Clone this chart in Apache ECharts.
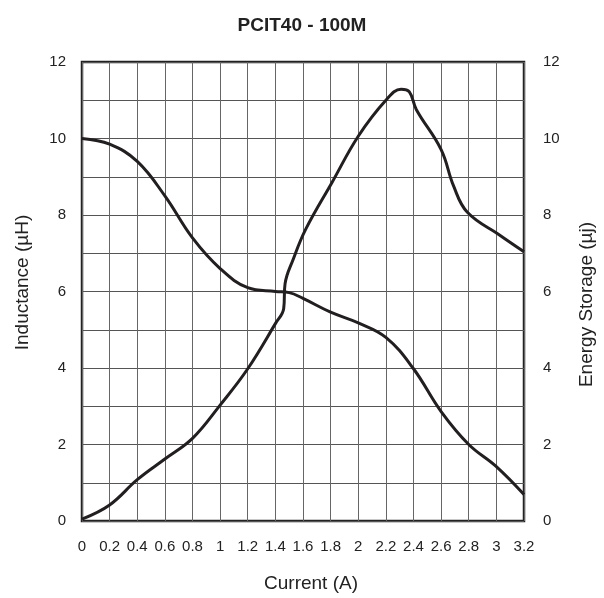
<!DOCTYPE html>
<html><head><meta charset="utf-8">
<script src="https://cdn.jsdelivr.net/npm/echarts@6/dist/echarts.min.js"></script>
<style>html,body{margin:0;padding:0;background:#fff}#c{width:604px;height:598px}</style>
</head><body><div id="c"></div>
<script>
var title = 'PCIT40 - 100M';
var xName = 'Current (A)';
var yLeftName = 'Inductance (\u00b5H)';
var yRightName = 'Energy Storage (\u00b5j)';
var inductance = [[0,10.0],[0.2,9.85],[0.4,9.4],[0.6,8.5],[0.8,7.4],[1.0,6.6],[1.2,6.1],[1.4,6.0],[1.5,5.97],[1.6,5.82],[1.8,5.46],[2.0,5.18],[2.2,4.8],[2.4,3.98],[2.6,2.86],[2.8,2.0],[3.0,1.42],[3.2,0.69]];
var energy = [[0,0.05],[0.2,0.42],[0.4,1.08],[0.6,1.62],[0.8,2.16],[1.0,3.03],[1.2,3.98],[1.4,5.16],[1.46,5.55],[1.47,6.2],[1.53,6.85],[1.62,7.63],[1.81,8.85],[2.0,10.06],[2.2,11.0],[2.31,11.29],[2.37,11.22],[2.42,10.76],[2.6,9.71],[2.69,8.76],[2.79,8.07],[3.03,7.46],[3.2,7.04]];
var chart = echarts.init(document.getElementById('c'));
var font = 'Liberation Sans, Arial, sans-serif';
function evenLabel(v){return v%2===0?String(v):'';}
chart.setOption({
  animation:false,
  title:{text:title,left:'center',top:11,textStyle:{fontFamily:font,fontSize:19,fontWeight:'bold',color:'#222'}},
  grid:{left:82,right:77,top:62,bottom:75,show:true,borderColor:'#222',borderWidth:2.5,backgroundColor:'transparent'},
  xAxis:{type:'value',min:0,max:3.2,interval:0.2,name:xName,nameLocation:'middle',nameGap:53,
    nameTextStyle:{fontFamily:font,fontSize:19,color:'#222',padding:[0,0,0,16]},
    axisLine:{show:false},axisTick:{show:false},
    axisLabel:{fontFamily:font,fontSize:15,color:'#222',margin:18},
    splitLine:{show:true,lineStyle:{color:'#666',width:1}}},
  yAxis:[
    {type:'value',min:0,max:12,interval:1,name:yLeftName,nameLocation:'middle',nameGap:50,
     nameTextStyle:{fontFamily:font,fontSize:19,color:'#222',padding:[0,0,0,18]},
     axisLine:{show:false},axisTick:{show:false},
     axisLabel:{fontFamily:font,fontSize:15,color:'#222',margin:16,formatter:evenLabel},
     splitLine:{show:true,lineStyle:{color:'#555',width:1}}},
    {type:'value',min:0,max:12,interval:1,name:yRightName,nameLocation:'middle',nameGap:53,
     nameTextStyle:{fontFamily:font,fontSize:19,color:'#222',padding:[0,26,0,0]},
     axisLine:{show:false},axisTick:{show:false},
     axisLabel:{fontFamily:font,fontSize:15,color:'#222',margin:19,formatter:evenLabel},
     splitLine:{show:false}}
  ],
  series:[
    {type:'line',data:inductance,yAxisIndex:0,smooth:0.4,symbol:'none',lineStyle:{color:'#231f20',width:3}},
    {type:'line',data:energy,yAxisIndex:1,smooth:0.4,symbol:'none',lineStyle:{color:'#231f20',width:3}}
  ]
});
</script></body></html>
